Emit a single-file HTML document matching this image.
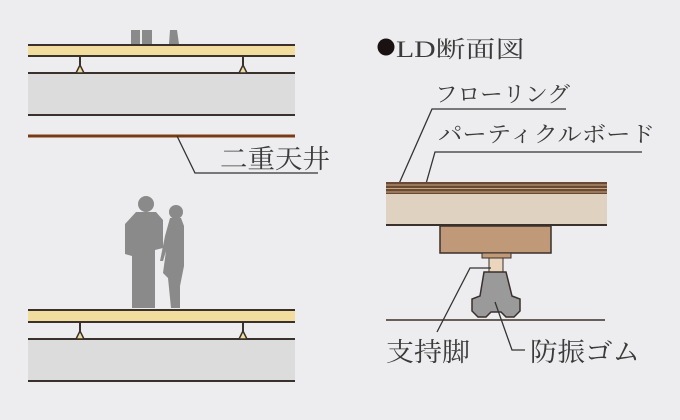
<!DOCTYPE html><html><head><meta charset="utf-8"><style>
body{margin:0;background:#ededef;}
svg{display:block}
text{font-family:"Liberation Serif","Noto Serif CJK SC",serif;fill:#3a3a3a;}
</style></head><body>
<svg width="680" height="420" viewBox="0 0 680 420" xmlns="http://www.w3.org/2000/svg">
<rect width="680" height="420" fill="#ededef"/>
<g fill="#8a8a8a"><path d="M131 30h9v14h-9zM142 30h10v14h-10zM170 30h7l2 14h-10z"/></g>
<g stroke="#3a302c" stroke-width="2">
<rect x="28" y="45" width="267" height="11" fill="#f1dd9e" stroke="none"/>
<line x1="28" y1="45" x2="295" y2="45"/><line x1="28" y1="56" x2="295" y2="56"/>
<rect x="28" y="73" width="267" height="42" fill="#dcdcdc" stroke="none"/>
<line x1="28" y1="73" x2="295" y2="73"/><line x1="28" y1="115" x2="295" y2="115"/>
<line x1="80" y1="56" x2="80" y2="66"/><line x1="243" y1="56" x2="243" y2="66"/>
<path d="M80 65l-4 8h8z M243 65l-4 8h8z" fill="#f1dd9e" stroke-width="1.5"/>
</g>
<line x1="28" y1="136" x2="295" y2="136" stroke="#7a3a14" stroke-width="3"/>
<polyline points="177,136 195,173 318,173" fill="none" stroke="#333" stroke-width="1.3"/>
<text x="220" y="168" font-size="26" textLength="110" lengthAdjust="spacingAndGlyphs">二重天井</text>
<g fill="#8a8a8a">
<circle cx="146" cy="204" r="8"/>
<path d="M136 212h20l7 8v28l-8 2v58h-23v-52l-7-2v-30z"/>
<circle cx="176" cy="212" r="7"/>
<path d="M170 218h11l3 8v40l-4 20v22h-9l-3-30-5-5 3-22-3 10h-3l5-25z"/>
</g>
<g stroke="#3a302c" stroke-width="2">
<rect x="28" y="310" width="267" height="12" fill="#f1dd9e" stroke="none"/>
<line x1="28" y1="310" x2="295" y2="310"/><line x1="28" y1="322" x2="295" y2="322"/>
<rect x="28" y="339" width="267" height="42" fill="#dcdcdc" stroke="none"/>
<line x1="28" y1="339" x2="295" y2="339"/><line x1="28" y1="381" x2="295" y2="381"/>
<line x1="80" y1="322" x2="80" y2="332"/><line x1="243" y1="322" x2="243" y2="332"/>
<path d="M80 331l-4 8h8z M243 331l-4 8h8z" fill="#f1dd9e" stroke-width="1.5"/>
</g>
<circle cx="386" cy="47" r="8.5" fill="#1a1212"/>
<text x="396" y="57" font-size="23" textLength="129" lengthAdjust="spacingAndGlyphs">LD断面図</text>
<text x="435" y="102" font-size="22" textLength="135" lengthAdjust="spacingAndGlyphs">フローリング</text>
<text x="438" y="142" font-size="22" textLength="217" lengthAdjust="spacingAndGlyphs">パーティクルボード</text>
<polyline points="566,109 432,109 398,186" fill="none" stroke="#333" stroke-width="1.3"/>
<polyline points="642,152 435,152 418,212" fill="none" stroke="#333" stroke-width="1.3"/>
<rect x="386" y="182" width="221" height="12" fill="#6b4a35"/>
<g stroke="#c8a880" stroke-width="1"><line x1="386" y1="185" x2="607" y2="185"/><line x1="386" y1="188.5" x2="607" y2="188.5"/><line x1="386" y1="192" x2="607" y2="192"/></g>
<rect x="386" y="194" width="221" height="31" fill="#e0d2c0"/>
<line x1="386" y1="225" x2="607" y2="225" stroke="#3a302c" stroke-width="2"/>
<rect x="440" y="226" width="111" height="27" fill="#c09a78" stroke="#3a302c" stroke-width="1.5"/>
<rect x="482" y="253" width="29" height="5" fill="#c09a78" stroke="#3a302c" stroke-width="1"/>
<rect x="489" y="258" width="14" height="14" fill="#ead6bc" stroke="#3a302c" stroke-width="1"/>
<path d="M484 272h22l6 24 8 3v12l-6 6h-8l-5-5h-10l-5 5h-8l-6-6v-12l8-3z" fill="#9a9a9a" stroke="#3a302c" stroke-width="1.5"/>
<line x1="386" y1="320" x2="605" y2="320" stroke="#3a302c" stroke-width="1.5"/>
<polyline points="491,268 470,268 437,332" fill="none" stroke="#333" stroke-width="1.3"/>
<polyline points="495,302 512,350 525,350" fill="none" stroke="#333" stroke-width="1.3"/>
<text x="386" y="361" font-size="26" textLength="84" lengthAdjust="spacingAndGlyphs">支持脚</text>
<text x="530" y="361" font-size="26" textLength="110" lengthAdjust="spacingAndGlyphs">防振ゴム</text>
</svg>
</body></html>
